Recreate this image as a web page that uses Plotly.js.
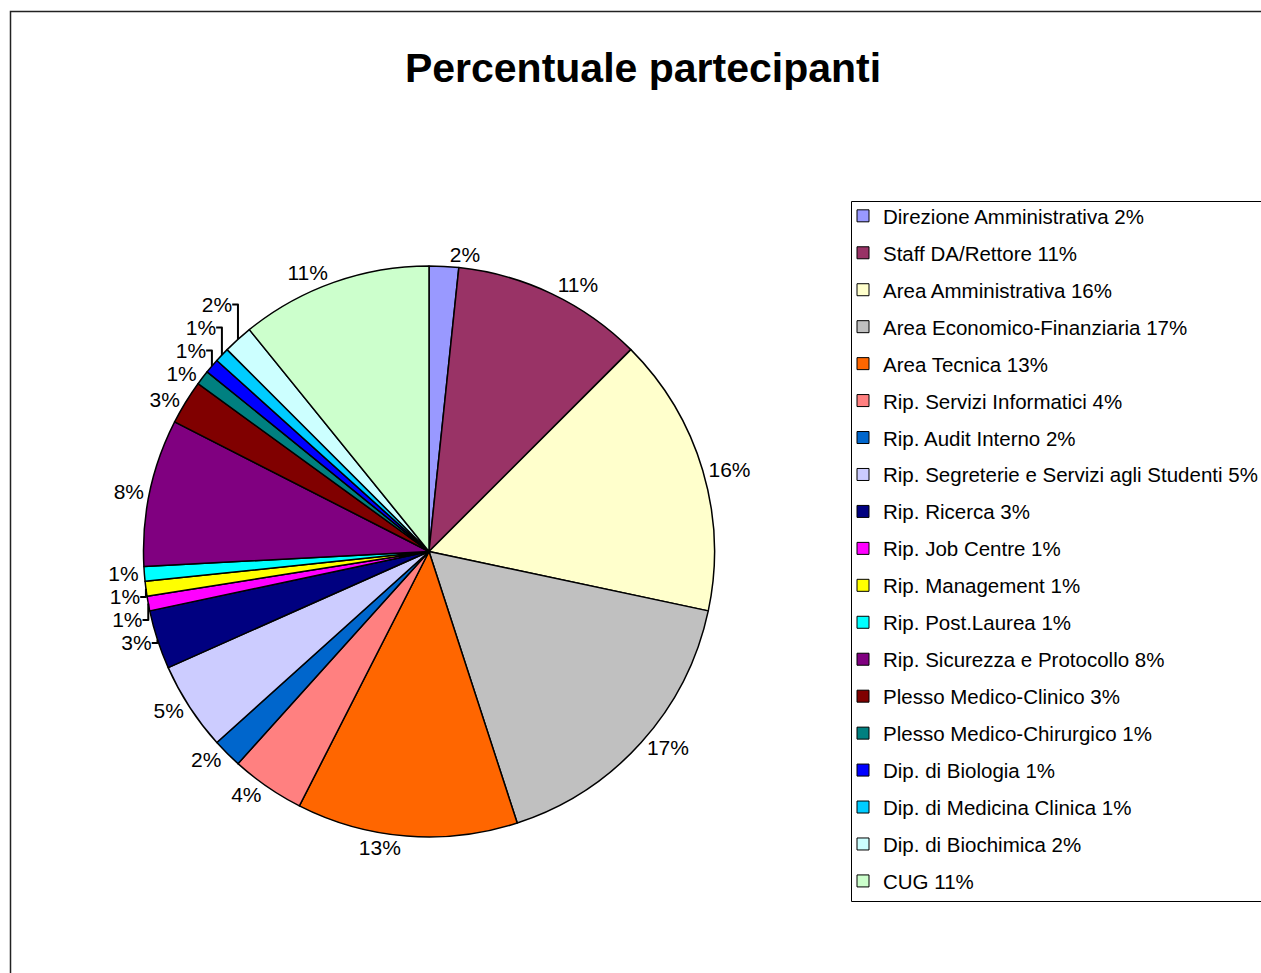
<!DOCTYPE html>
<html>
<head>
<meta charset="utf-8">
<script src="https://cdn.plot.ly/plotly-3.0.1.min.js"></script>
<style>
  html, body { margin: 0; padding: 0; background: #ffffff; }
  #chart { width: 1261px; height: 973px; }
</style>
</head>
<body>
<div id="chart"></div>
<script>
// Categories (clockwise from 12 o'clock)
const categories = [
  "Direzione Amministrativa",
  "Staff DA/Rettore",
  "Area Amministrativa",
  "Area Economico-Finanziaria",
  "Area Tecnica",
  "Rip. Servizi Informatici",
  "Rip. Audit Interno",
  "Rip. Segreterie e Servizi agli Studenti",
  "Rip. Ricerca",
  "Rip. Job Centre",
  "Rip. Management",
  "Rip. Post.Laurea",
  "Rip. Sicurezza e Protocollo",
  "Plesso Medico-Clinico",
  "Plesso Medico-Chirurgico",
  "Dip. di Biologia",
  "Dip. di Medicina Clinica",
  "Dip. di Biochimica",
  "CUG"
];
// Number of participants per category
const participants = [2, 13, 19, 20, 15, 5, 2, 6, 4, 1, 1, 1, 10, 3, 1, 1, 1, 2, 13];
// Slice colours
const sliceColors = [
  "#9999FF", "#993366", "#FFFFCC", "#C0C0C0", "#FF6600", "#FF8080",
  "#0066CC", "#CCCCFF", "#000080", "#FF00FF", "#FFFF00", "#00FFFF",
  "#800080", "#800000", "#008080", "#0000FF", "#00CCFF", "#CCFFFF", "#CCFFCC"
];

const total = participants.reduce((a, b) => a + b, 0);
const pctText = participants.map(v => Math.round(v * 100 / total) + "%");
const legendLabels = categories.map((c, i) => c + " " + pctText[i]);

const W = 1261, H = 973;
const FONT = "Liberation Sans, Arial, sans-serif";

const pie = {
  type: "pie",
  labels: legendLabels,
  values: participants,
  text: pctText,
  textinfo: "text",
  textposition: "outside",
  sort: false,
  direction: "clockwise",
  rotation: 0,
  showlegend: false,
  marker: { colors: sliceColors, line: { color: "#000000", width: 1.5 } },
  outsidetextfont: { family: FONT, size: 21, color: "#000000" },
  domain: { x: [143 / W, 715 / W], y: [1 - 837 / H, 1 - 266 / H] },
  hoverinfo: "label+value"
};

// Legend entries (one per category, no visible points)
const legendTraces = categories.map((c, i) => ({
  type: "scatter",
  mode: "markers",
  x: [null], y: [null],
  name: legendLabels[i],
  legendgroup: "g" + i,
  showlegend: true,
  marker: { symbol: "square", size: 12, color: sliceColors[i], line: { color: "#000000", width: 1 } },
  hoverinfo: "skip"
}));

const layout = {
  width: W,
  height: H,
  autosize: false,
  margin: { l: 0, r: 0, t: 0, b: 0, pad: 0, autoexpand: false },
  paper_bgcolor: "#ffffff",
  plot_bgcolor: "rgba(0,0,0,0)",
  font: { family: FONT, color: "#000000" },
  xaxis: { visible: false, range: [0, 1], fixedrange: true },
  yaxis: { visible: false, range: [0, 1], fixedrange: true },
  title: {
    text: "<b>Percentuale partecipanti</b>",
    font: { family: FONT, size: 41, color: "#000000" },
    x: 643 / W, xanchor: "center",
    y: 1 - 68 / H, yanchor: "middle"
  },
  showlegend: true,
  legend: {
    x: 843 / W, xanchor: "left",
    y: 1 - 196 / H, yanchor: "top",
    bgcolor: "rgba(0,0,0,0)",
    borderwidth: 0,
    font: { family: FONT, size: 20.5, color: "#000000" },
    traceorder: "grouped",
    tracegroupgap: 7.3,
    itemsizing: "trace"
  },
  shapes: [
    {
      type: "path", xref: "paper", yref: "paper",
      path: "M " + (10.5 / W) + " -0.1 L " + (10.5 / W) + " " + (1 - 11.5 / H) + " L 1.1 " + (1 - 11.5 / H),
      line: { color: "#222222", width: 1.5 }
    },
    {
      type: "rect", xref: "paper", yref: "paper",
      x0: 851.5 / W, x1: 1.05,
      y0: 1 - 901.5 / H, y1: 1 - 201.5 / H,
      line: { color: "#000000", width: 1 },
      fillcolor: "rgba(0,0,0,0)"
    }
  ]
};

Plotly.newPlot("chart", [pie].concat(legendTraces), layout, { displayModeBar: false, staticPlot: true });
</script>
</body>
</html>
